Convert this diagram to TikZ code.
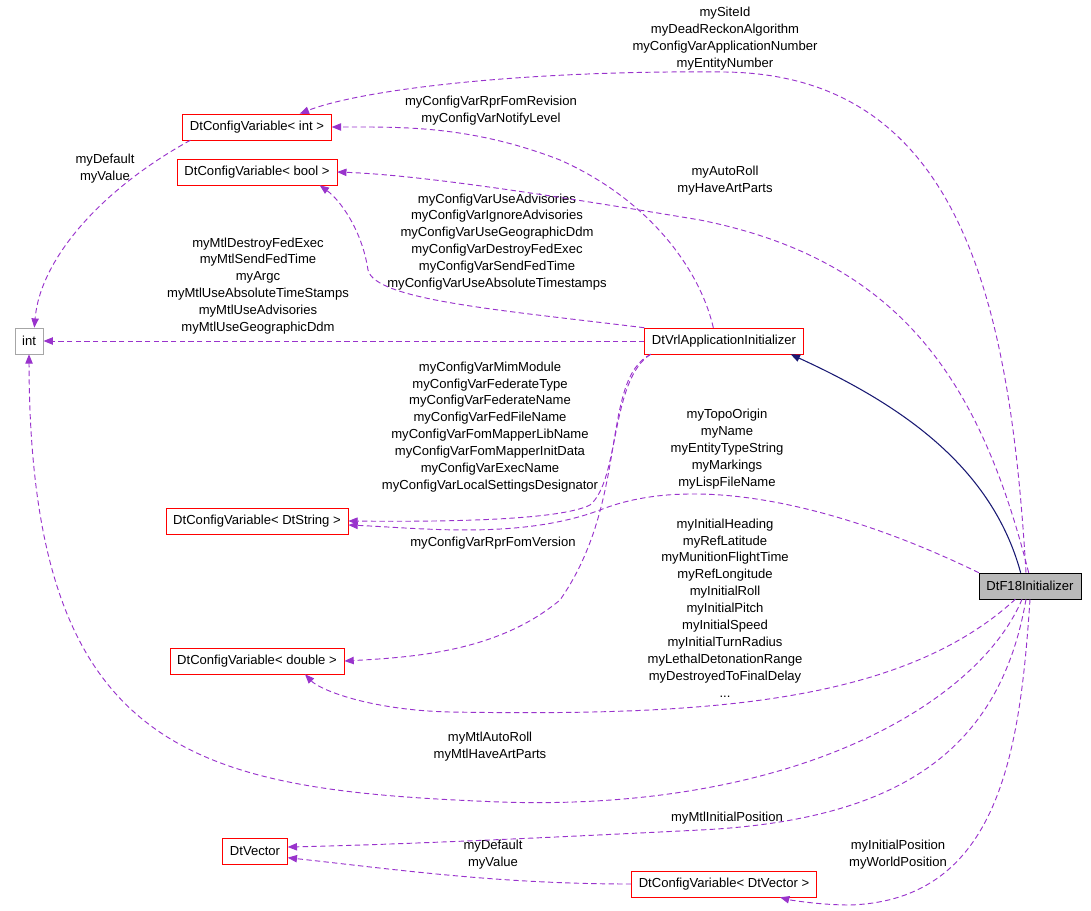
\documentclass[tikz,border=0pt]{standalone}
\usepackage{fontspec}
\setmainfont{Liberation Sans}
\usetikzlibrary{arrows.meta}
\definecolor{usageColor}{rgb}{0.6,0.2,0.8}
\definecolor{inheritColor}{rgb}{0.1,0.1,0.45}
\definecolor{boxRed}{rgb}{1,0,0}
\tikzset{
  klass/.style={rectangle, draw=boxRed, fill=white, inner xsep=5.5pt, inner ysep=3pt, minimum height=19.5pt, font=\fontsize{9.8}{11}\selectfont},
  plainKlass/.style={klass, draw=gray!70},
  focusKlass/.style={klass, draw=black, fill=gray!55},
  usage/.style={dash pattern=on 4pt off 2.5pt, draw=usageColor, line width=0.7pt, -{Triangle[length=7pt,width=5.5pt]}},
  inherit/.style={draw=inheritColor, line width=0.8pt, -{Triangle[length=7pt,width=5.5pt]}},
  lbl/.style={align=center, font=\fontsize{9.8}{12.7}\selectfont, inner sep=0pt}
}
\begin{document}
\begin{tikzpicture}[x=0.75pt, y=-0.75pt]
      \useasboundingbox (0,0) rectangle (1091,910);

      % classes
      \node[focusKlass] (f18) at (1030,586) {DtF18Initializer};
      \node[klass] (vrl) at (724,341) {DtVrlApplicationInitializer};
      \node[klass] (intvar) at (257,127) {DtConfigVariable< int >};
      \node[klass, draw=boxRed] (boolvar) at (257,172) {DtConfigVariable< bool >};
      \node[plainKlass] (int) at (29,341) {int};
      \node[klass] (strvar) at (257,521) {DtConfigVariable< DtString >};
      \node[klass] (dblvar) at (257,661) {DtConfigVariable< double >};
      \node[klass] (vec) at (255,851) {DtVector};
      \node[klass] (cvec) at (724,884) {DtConfigVariable< DtVector >};

      % labels
      \node[lbl] (lSite) at (725,39) {mySiteId\\myDeadReckonAlgorithm\\myConfigVarApplicationNumber\\myEntityNumber};
      \node[lbl] (lRev) at (491,111) {myConfigVarRprFomRevision\\myConfigVarNotifyLevel};
      \node[lbl] (lRoll) at (725,181) {myAutoRoll\\myHaveArtParts};
      \node[lbl] (lAdv) at (497,242) {myConfigVarUseAdvisories\\myConfigVarIgnoreAdvisories\\myConfigVarUseGeographicDdm\\myConfigVarDestroyFedExec\\myConfigVarSendFedTime\\myConfigVarUseAbsoluteTimestamps};
      \node[lbl] (lDef) at (105,169) {myDefault\\myValue};
      \node[lbl] (lMtl) at (258,286) {myMtlDestroyFedExec\\myMtlSendFedTime\\myArgc\\myMtlUseAbsoluteTimeStamps\\myMtlUseAdvisories\\myMtlUseGeographicDdm};
      \node[lbl] (lMim) at (490,427) {myConfigVarMimModule\\myConfigVarFederateType\\myConfigVarFederateName\\myConfigVarFedFileName\\myConfigVarFomMapperLibName\\myConfigVarFomMapperInitData\\myConfigVarExecName\\myConfigVarLocalSettingsDesignator};
      \node[lbl] (lTopo) at (727,449) {myTopoOrigin\\myName\\myEntityTypeString\\myMarkings\\myLispFileName};
      \node[lbl] (lVer) at (493,543) {myConfigVarRprFomVersion};
      \node[lbl] (lHead) at (725,608) {myInitialHeading\\myRefLatitude\\myMunitionFlightTime\\myRefLongitude\\myInitialRoll\\myInitialPitch\\myInitialSpeed\\myInitialTurnRadius\\myLethalDetonationRange\\myDestroyedToFinalDelay\\{...}};
      \node[lbl] (lMtlRoll) at (490,747) {myMtlAutoRoll\\myMtlHaveArtParts};
      \node[lbl] (lMtlPos) at (727,818) {myMtlInitialPosition};
      \node[lbl] (lVDef) at (493,855) {myDefault\\myValue};
      \node[lbl] (lPos) at (898,855) {myInitialPosition\\myWorldPosition};

      % connectors
      \draw[usage] ([xshift=-3pt]f18.north) .. controls (1010,300) and (960,75) .. (725,72)
                   .. controls (520,70) and (360,90) .. ([xshift=32pt]intvar.north);
      \draw[usage] ([xshift=-8pt]vrl.north) .. controls (700,270) and (650,200) .. (560,160)
                   .. controls (470,125) and (400,127) .. (intvar.east);
      \draw[usage] ([xshift=-1pt]f18.north) .. controls (980,380) and (900,260) .. (700,220)
                   .. controls (550,195) and (420,175) .. (boolvar.east);
      \draw[usage] (vrl.north west) .. controls (500,310) and (375,300) .. (368,270)
                   .. controls (362,230) and (340,200) .. ([xshift=47pt]boolvar.south);
      \draw[usage] ([xshift=-50pt]intvar.south) .. controls (100,190) and (40,260) .. ([xshift=4pt]int.north);
      \draw[usage] (vrl.west) -- (int.east);
      \draw[usage] ([xshift=-55pt]vrl.south) .. controls (610,380) and (620,480) .. (590,505)
                   .. controls (560,520) and (450,522) .. (strvar.east);
      \draw[usage] (f18.north west) .. controls (850,510) and (700,470) .. (600,510)
                   .. controls (520,540) and (420,528) .. ([yshift=-3pt]strvar.east);
      \draw[usage] ([xshift=-55pt]vrl.south) .. controls (600,380) and (630,500) .. (560,600)
                   .. controls (500,650) and (420,657) .. (dblvar.east);
      \draw[usage] ([xshift=-11pt]f18.south) .. controls (900,705) and (700,716) .. (450,712)
                   .. controls (370,710) and (320,690) .. ([xshift=36pt]dblvar.south);
      \draw[usage] ([xshift=-6pt]f18.south) .. controls (980,700) and (800,812) .. (500,802)
                   .. controls (200,790) and (30,760) .. (int.south);
      \draw[usage] ([xshift=-3pt]f18.south) .. controls (1000,750) and (900,820) .. (700,830)
                   .. controls (500,840) and (380,845) .. ([yshift=3pt]vec.east);
      \draw[usage] (cvec.west) .. controls (500,884) and (400,870) .. ([yshift=-5pt]vec.east);
      \draw[usage] (f18.south) .. controls (1020,750) and (1000,900) .. (850,905)
                   .. controls (820,905) and (790,900) .. ([xshift=42pt]cvec.south);
      \draw[inherit] ([xshift=-7pt]f18.north) .. controls (990,460) and (890,400) .. ([xshift=50pt]vrl.south);
\end{tikzpicture}
\end{document}
